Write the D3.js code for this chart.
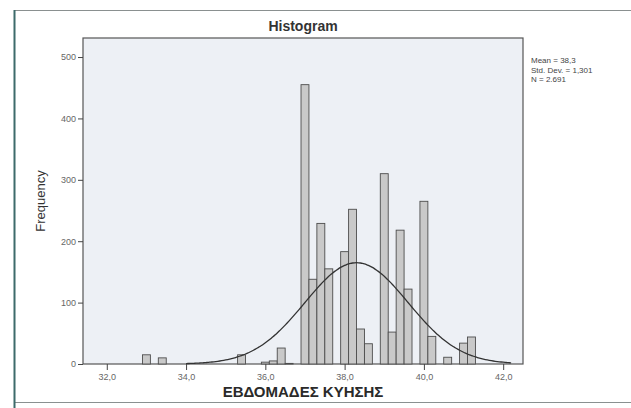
<!DOCTYPE html>
<html>
<head>
<meta charset="utf-8">
<script src="https://cdn.jsdelivr.net/npm/d3@7"></script>
<style>
  html, body { margin: 0; padding: 0; background: #fff; }
  svg { display: block; font-family: "Liberation Sans", Arial, sans-serif; }
</style>
</head>
<body>
<svg width="631" height="408"></svg>
<script>
const svg = d3.select('svg');

// DATA
const binCenters = [33.0, 33.4, 35.4, 36.0, 36.2, 36.4, 36.6,
  37.0, 37.2, 37.4, 37.6, 38.0, 38.2, 38.4, 38.6,
  39.0, 39.2, 39.4, 39.6, 40.0, 40.2, 40.6, 41.0, 41.2];
const counts = [15, 10, 15, 3, 5, 26, 1,
  455, 138, 229, 155, 183, 252, 57, 33,
  310, 52, 218, 122, 265, 45, 11, 34, 44];
const binWidth = 0.2;
const xTicks = [32, 34, 36, 38, 40, 42];
const yTicks = [0, 100, 200, 300, 400, 500];
const statsLines = ['Mean = 38,3', 'Std. Dev. = 1,301', 'N = 2.691'];
const mean = 38.3, sd = 1.301, n = 2691;

// LAYOUT
const plot = { left: 83, right: 523, top: 38, bottom: 364 };

const x = d3.scaleLinear().domain([31.4, 42.5]).range([plot.left, plot.right]);
const y = d3.scaleLinear().domain([0, 531]).range([plot.bottom, plot.top]);

// outer frame
svg.append('rect')
    .attr('x', 14.5).attr('y', 10.5)
    .attr('width', 640).attr('height', 392)
    .attr('fill', '#fff')
    .attr('stroke', '#8a9090');
svg.append('line')
    .attr('x1', 14.5).attr('x2', 14.5)
    .attr('y1', 10).attr('y2', 408)
    .attr('stroke', '#3d6b6b').attr('stroke-width', 2);

// plot area
svg.append('rect')
    .attr('x', plot.left).attr('y', plot.top)
    .attr('width', plot.right - plot.left)
    .attr('height', plot.bottom - plot.top)
    .attr('fill', '#edf0f5')
    .attr('stroke', '#555')
    .attr('stroke-width', 1.2);

// bars
svg.append('g')
  .selectAll('rect')
  .data(binCenters)
  .join('rect')
    .attr('x', d => x(d - binWidth / 2))
    .attr('y', (d, i) => y(counts[i]))
    .attr('width', d => x(d + binWidth / 2) - x(d - binWidth / 2))
    .attr('height', (d, i) => y(0) - y(counts[i]))
    .attr('fill', '#c9c9c9')
    .attr('stroke', '#4d4d4d')
    .attr('stroke-width', 0.9);

// normal curve from the printed statistics
const curveXs = d3.range(34.0, 42.21, 0.05);
const normal = v => n * binWidth * Math.exp(-0.5 * ((v - mean) / sd) ** 2) / (sd * Math.sqrt(2 * Math.PI));
svg.append('path')
    .datum(curveXs)
    .attr('d', d3.line().x(d => x(d)).y(d => y(normal(d))).curve(d3.curveBasis))
    .attr('fill', 'none')
    .attr('stroke', '#333')
    .attr('stroke-width', 1.3);

// axes
const yAxis = svg.append('g')
    .attr('transform', `translate(${plot.left},0)`)
    .call(d3.axisLeft(y).tickValues(yTicks).tickSize(5).tickPadding(2).tickFormat(d3.format('d')));
const xAxis = svg.append('g')
    .attr('transform', `translate(0,${plot.bottom})`)
    .call(d3.axisBottom(x).tickValues(xTicks).tickSize(6).tickPadding(4)
      .tickFormat(d => d.toFixed(1).replace('.', ',')));
[yAxis, xAxis].forEach(a => {
  a.select('.domain').remove();
  a.selectAll('line').attr('stroke', '#444');
  a.selectAll('text').attr('fill', '#666').style('font-size', '9px');
});

// title and axis labels
svg.append('text')
    .attr('x', (plot.left + plot.right) / 2).attr('y', 31)
    .attr('text-anchor', 'middle')
    .style('font-size', '14px').style('font-weight', 'bold')
    .attr('fill', '#333')
    .text('Histogram');

svg.append('text')
    .attr('transform', `translate(45,${(plot.top + plot.bottom) / 2}) rotate(-90)`)
    .attr('text-anchor', 'middle')
    .style('font-size', '13px')
    .attr('fill', '#333')
    .text('Frequency');

svg.append('text')
    .attr('x', (plot.left + plot.right) / 2).attr('y', 397)
    .attr('text-anchor', 'middle')
    .style('font-size', '15px').style('font-weight', 'bold')
    .attr('fill', '#2a2a2a')
    .text('ΕΒΔΟΜΑΔΕΣ ΚΥΗΣΗΣ');

// stats box text
svg.append('g')
  .selectAll('text')
  .data(statsLines)
  .join('text')
    .attr('x', 531)
    .attr('y', (d, i) => 63 + i * 9.5)
    .style('font-size', '8px')
    .attr('fill', '#444')
    .text(d => d);
</script>
</body>
</html>
